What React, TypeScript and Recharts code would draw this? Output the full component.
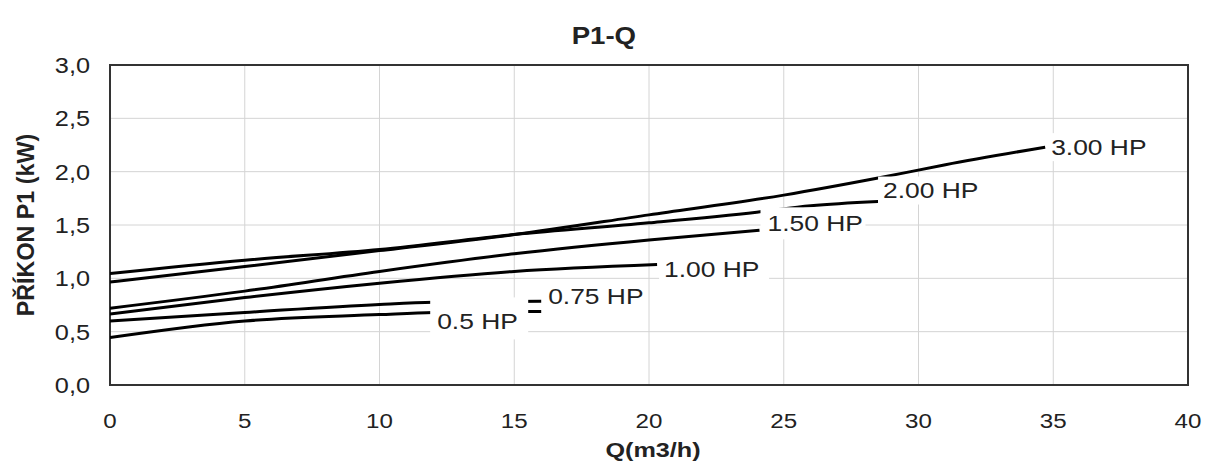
import React from 'react';
import { LineChart, Line, XAxis, YAxis, CartesianGrid, ReferenceArea } from 'recharts';

// Series (Q in m3/h, P1 in kW)
const q300 = [0, 5, 10, 15, 20, 25, 28.5, 31, 34.7];
const p300 = [0.965, 1.11, 1.26, 1.41, 1.595, 1.78, 1.94, 2.065, 2.23];
const q200 = [0, 5, 10, 15, 20, 24, 26, 28.5];
const p200 = [1.045, 1.17, 1.27, 1.41, 1.52, 1.62, 1.68, 1.72];
const q150 = [0, 5, 10, 15, 20, 24.1];
const p150 = [0.72, 0.88, 1.065, 1.23, 1.36, 1.45];
const q100 = [0, 5, 10, 15, 20.3];
const p100 = [0.665, 0.82, 0.955, 1.065, 1.13];
const q075 = [0, 5, 10, 12, 16];
const p075 = [0.6, 0.68, 0.755, 0.775, 0.785];
const q050 = [0, 5, 10, 12, 16];
const p050 = [0.445, 0.6, 0.66, 0.68, 0.69];

const seriesNames = ['3.00 HP', '2.00 HP', '1.50 HP', '1.00 HP', '0.75 HP', '0.5 HP'];
const xTicks = [0, 5, 10, 15, 20, 25, 30, 35, 40];
const yTicks = [0, 0.5, 1, 1.5, 2, 2.5, 3];

const title = 'P1-Q';
const xTitle = 'Q(m3/h)';
const yTitle = 'PŘÍKON P1 (kW)';

const build = (q: number[], p: number[]) => q.map((v, i) => ({ q: v, p: p[i] }));
const seriesData = [
  build(q300, p300),
  build(q200, p200),
  build(q150, p150),
  build(q100, p100),
  build(q075, p075),
  build(q050, p050),
];

// label placement relative to the series end point (pixels)
const labelPlacement: Record<string, { tx: number; ty: number; bx0: number; bx1: number; by0: number; by1: number }> = {
  '3.00 HP': { tx: 6, ty: 0, bx0: 2, bx1: 104, by0: -14, by1: 14 },
  '2.00 HP': { tx: 5, ty: -11, bx0: 0, bx1: 102, by0: -25, by1: 3 },
  '1.50 HP': { tx: 8, ty: -7, bx0: 1, bx1: 106, by0: -23, by1: 9 },
  '1.00 HP': { tx: 7, ty: 5, bx0: 2, bx1: 112, by0: -9, by1: 19 },
  '0.75 HP': { tx: 7, ty: -5, bx0: 2, bx1: 104, by0: -19, by1: 9 },
  '0.5 HP': { tx: -104, ty: 10, bx0: -111, bx1: -13, by0: -14, by1: 28 },
};

const FONT = '"Liberation Sans", Arial, sans-serif';
const TEXT = '#222';
const SX = 1.2;

const makeLabel = (name: string, n: number) => (props: any) => {
  const { x, y, index } = props;
  if (index !== n - 1 || x == null || y == null) return null;
  const s = labelPlacement[name];
  return (
    <g>
      <rect x={x + s.bx0} y={y + s.by0} width={s.bx1 - s.bx0} height={s.by1 - s.by0} fill="#fff" />
      <text
        transform={`translate(${x + s.tx},${y + s.ty}) scale(${SX},1)`}
        dy="0.36em"
        fontSize={22}
        fontFamily={FONT}
        fill={TEXT}
        textAnchor="start"
      >
        {name}
      </text>
    </g>
  );
};

const fmtY = (v: number) => v.toFixed(1).replace('.', ',');

const XTick = (props: any) => {
  const { x, y, payload } = props;
  return (
    <text
      transform={`translate(${x},${y + 35}) scale(1.15,1)`}
      dy="0.36em"
      textAnchor="middle"
      fontSize={21}
      fontFamily={FONT}
      fill={TEXT}
    >
      {payload.value}
    </text>
  );
};

const YTick = (props: any) => {
  const { x, y, payload } = props;
  return (
    <text
      transform={`translate(${x - 20},${y}) scale(1.15,1)`}
      dy="0.36em"
      textAnchor="end"
      fontSize={22}
      fontFamily={FONT}
      fill={TEXT}
    >
      {fmtY(payload.value)}
    </text>
  );
};

const XTitle = (props: any) => {
  const { viewBox } = props;
  const cx = viewBox.x + viewBox.width / 2 + 4;
  return (
    <text
      transform={`translate(${cx},457) scale(1.2,1)`}
      textAnchor="middle"
      fontSize={21}
      fontWeight="bold"
      fontFamily={FONT}
      fill={TEXT}
    >
      {xTitle}
    </text>
  );
};

const YTitle = () => (
  <text
    transform={`translate(25,225) rotate(-90) scale(1.06,1.1)`}
    dy="0.36em"
    textAnchor="middle"
    fontSize={22}
    fontWeight="bold"
    fontFamily={FONT}
    fill={TEXT}
  >
    {yTitle}
  </text>
);

export default function App() {
  return (
    <div style={{ position: 'absolute', left: 0, top: 0, width: 1206, height: 466, background: '#fff' }}>
      <div
        style={{
          position: 'absolute',
          left: 0,
          width: 1206,
          top: 22,
          textAlign: 'center',
          fontFamily: FONT,
          fontWeight: 'bold',
          fontSize: 23,
          color: TEXT,
          lineHeight: '28px',
        }}
      >
        <span style={{ display: 'inline-block', transform: 'scaleX(1.2)', position: 'relative', left: 1 }}>{title}</span>
      </div>
      <LineChart width={1206} height={466} margin={{ top: 65, right: 18, bottom: 0, left: 0 }}>
        <CartesianGrid stroke="#d4d4d4" strokeWidth={1} />
        <XAxis
          dataKey="q"
          type="number"
          domain={[0, 40]}
          ticks={xTicks}
          allowDataOverflow
          tickSize={0}
          tickMargin={0}
          axisLine={false}
          tick={<XTick />}
          height={81}
          label={<XTitle />}
        />
        <YAxis
          type="number"
          domain={[0, 3]}
          ticks={yTicks}
          allowDataOverflow
          tickSize={0}
          tickMargin={0}
          axisLine={false}
          width={110}
          tick={<YTick />}
          label={<YTitle />}
        />
        <ReferenceArea x1={0} x2={40} y1={0} y2={3} fill="none" stroke="#333" strokeWidth={2} />
        {seriesData.map((d, i) => (
          <Line
            key={seriesNames[i]}
            data={d}
            dataKey="p"
            type="monotone"
            stroke="#000"
            strokeWidth={3}
            dot={false}
            isAnimationActive={false}
            label={makeLabel(seriesNames[i], d.length)}
          />
        ))}
      </LineChart>
    </div>
  );
}
